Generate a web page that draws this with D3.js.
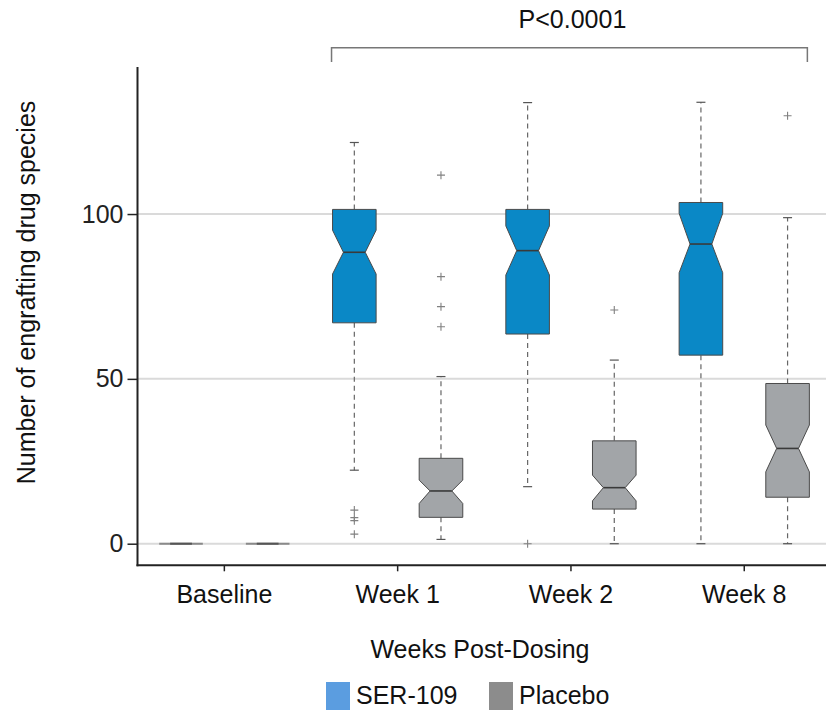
<!DOCTYPE html>
<html>
<head>
<meta charset="utf-8">
<script src="https://cdn.jsdelivr.net/npm/d3@7"></script>
<style>
  html, body { margin: 0; padding: 0; background: #fff; }
  svg { display: block; font-family: "Liberation Sans", Arial, sans-serif; }
</style>
</head>
<body>
<svg id="chart" width="826" height="712"></svg>
<script>
// ---- data ----
const categories = ["Baseline", "Week 1", "Week 2", "Week 8"];
const groups = ["SER-109", "Placebo"];
const yTicks = [0, 50, 100];

const serQ1       = [0, 67.0, 63.6, 57.2];
const serMedian   = [0, 88.4, 88.9, 90.9];
const serQ3       = [0, 101.4, 101.4, 103.5];
const serNotchLo  = [0, 81.8, 81.5, 82.2];
const serNotchHi  = [0, 95.1, 96.4, 100.2];
const serWhiskLo  = [0, 22.3, 17.3, 0];
const serWhiskHi  = [0, 121.7, 133.8, 133.9];
const serOutliers = [[], [10.2, 7.9, 7.0, 2.9], [0], []];

const plcQ1       = [0, 8.0, 10.5, 14.1];
const plcMedian   = [0, 16.0, 17.0, 28.9];
const plcQ3       = [0, 25.9, 31.2, 48.6];
const plcNotchLo  = [0, 12.2, 13.0, 21.8];
const plcNotchHi  = [0, 19.3, 20.8, 36.0];
const plcWhiskLo  = [0, 1.3, 0, 0];
const plcWhiskHi  = [0, 50.7, 55.7, 98.9];
const plcOutliers = [[], [111.8, 81.0, 71.9, 65.8], [70.9], [129.8]];

const pValueText = "P<0.0001";
const xTitle = "Weeks Post-Dosing";
const yTitle = "Number of engrafting drug species";

// ---- build records ----
const boxes = [];
categories.forEach((c, i) => {
  boxes.push({cat: c, group: "SER-109", q1: serQ1[i], med: serMedian[i], q3: serQ3[i],
    nlo: serNotchLo[i], nhi: serNotchHi[i], wlo: serWhiskLo[i], whi: serWhiskHi[i], out: serOutliers[i]});
  boxes.push({cat: c, group: "Placebo", q1: plcQ1[i], med: plcMedian[i], q3: plcQ3[i],
    nlo: plcNotchLo[i], nhi: plcNotchHi[i], wlo: plcWhiskLo[i], whi: plcWhiskHi[i], out: plcOutliers[i]});
});

const boxFill = {"SER-109": "#0a88c6", "Placebo": "#a2a5a8"};
const legendFill = {"SER-109": "#5b9de0", "Placebo": "#8c8c8c"};

const svg = d3.select("#chart");
const W = 826;
const axisLeft = 137.5, axisBottom = 565.3, axisTop = 67;

const x = d3.scaleBand().domain(categories).range([137.7, 830.9]).padding(0);
const xs = d3.scalePoint().domain(groups).range([0, x.bandwidth()]).padding(0.5);
const y = d3.scaleLinear().domain([-6.55, 144.6]).range([axisBottom, axisTop]);

const boxW = xs.step() * 0.503;
const half = boxW / 2;
const notchInset = half / 2;

// gridlines
svg.append("g").selectAll("line").data(yTicks).join("line")
  .attr("x1", axisLeft).attr("x2", W)
  .attr("y1", d => y(d)).attr("y2", d => y(d))
  .attr("stroke", "#dadada").attr("stroke-width", 2);

// boxes
const g = svg.append("g");
boxes.forEach(b => {
  const cx = x(b.cat) + xs(b.group);
  const L = cx - half, R = cx + half;
  const gg = g.append("g");
  const dashed = "5,4";
  if (b.whi > b.q3) {
    gg.append("line").attr("x1", cx).attr("x2", cx).attr("y1", y(b.q3)).attr("y2", y(b.whi))
      .attr("stroke", "#666").attr("stroke-width", 1.2).attr("stroke-dasharray", dashed);
    gg.append("line").attr("x1", cx - 4.5).attr("x2", cx + 4.5).attr("y1", y(b.whi)).attr("y2", y(b.whi))
      .attr("stroke", "#555").attr("stroke-width", 1.2);
  }
  if (b.wlo < b.q1) {
    gg.append("line").attr("x1", cx).attr("x2", cx).attr("y1", y(b.q1)).attr("y2", y(b.wlo))
      .attr("stroke", "#666").attr("stroke-width", 1.2).attr("stroke-dasharray", dashed);
    gg.append("line").attr("x1", cx - 4.5).attr("x2", cx + 4.5).attr("y1", y(b.wlo)).attr("y2", y(b.wlo))
      .attr("stroke", "#555").attr("stroke-width", 1.2);
  }
  const isFlat = b.q3 === b.q1;
  if (isFlat) {
    gg.append("line").attr("x1", L).attr("x2", R).attr("y1", y(b.med)).attr("y2", y(b.med))
      .attr("stroke", "#8a8a8a").attr("stroke-width", 2);
    gg.append("line").attr("x1", L + notchInset).attr("x2", R - notchInset).attr("y1", y(b.med)).attr("y2", y(b.med))
      .attr("stroke", "#555").attr("stroke-width", 2);
  } else {
    const pts = [
      [L, y(b.q3)], [R, y(b.q3)], [R, y(b.nhi)], [R - notchInset, y(b.med)], [R, y(b.nlo)],
      [R, y(b.q1)], [L, y(b.q1)], [L, y(b.nlo)], [L + notchInset, y(b.med)], [L, y(b.nhi)]
    ];
    gg.append("polygon").attr("points", pts.map(p => p.join(",")).join(" "))
      .attr("fill", boxFill[b.group]).attr("stroke", "#4a4a4a").attr("stroke-width", 1);
    gg.append("line").attr("x1", L + notchInset).attr("x2", R - notchInset)
      .attr("y1", y(b.med)).attr("y2", y(b.med))
      .attr("stroke", "#3a3a3a").attr("stroke-width", 1.6);
  }
  b.out.forEach(v => {
    const oy = y(v);
    gg.append("path").attr("d", `M${cx - 4},${oy}H${cx + 4}M${cx},${oy - 4}V${oy + 4}`)
      .attr("stroke", "#808080").attr("stroke-width", 1.1).attr("fill", "none");
  });
});

// axes
const yAxis = svg.append("g").attr("transform", `translate(${axisLeft},0)`)
  .call(d3.axisLeft(y).tickValues(yTicks).tickSize(10).tickPadding(4));
yAxis.select(".domain").remove();
yAxis.selectAll(".tick line").attr("stroke", "#222").attr("stroke-width", 1.5);
yAxis.selectAll(".tick text").attr("font-size", 25).attr("fill", "#222")
  .attr("font-family", "Liberation Sans, Arial, sans-serif");

svg.append("line").attr("x1", axisLeft).attr("x2", axisLeft).attr("y1", axisTop).attr("y2", axisBottom + 1)
  .attr("stroke", "#222").attr("stroke-width", 2);

const xAxis = svg.append("g").attr("transform", `translate(0,${axisBottom})`)
  .call(d3.axisBottom(x).tickSize(6).tickPadding(14));
xAxis.select(".domain").remove();
xAxis.selectAll(".tick line").attr("stroke", "#222").attr("stroke-width", 1.5);
xAxis.selectAll(".tick text").attr("font-size", 25).attr("fill", "#111")
  .attr("font-family", "Liberation Sans, Arial, sans-serif");
svg.append("line").attr("x1", axisLeft - 1).attr("x2", W).attr("y1", axisBottom).attr("y2", axisBottom)
  .attr("stroke", "#222").attr("stroke-width", 2);

// axis titles
svg.append("text").attr("x", 480).attr("y", 658).attr("text-anchor", "middle")
  .attr("font-size", 25).attr("fill", "#111").text(xTitle);
svg.append("text").attr("transform", "translate(35,292.5) rotate(-90)").attr("text-anchor", "middle")
  .attr("font-size", 25).attr("fill", "#111").text(yTitle);

// significance bracket
const bx1 = x("Week 1") + xs("SER-109") - half - 1;
const bx2 = x("Week 8") + xs("Placebo") + half - 2;
svg.append("path").attr("d", `M${bx1},62V47.7H${bx2}V62`)
  .attr("fill", "none").attr("stroke", "#777").attr("stroke-width", 1.5);
svg.append("text").attr("x", (bx1 + bx2) / 2 + 3).attr("y", 28).attr("text-anchor", "middle")
  .attr("font-size", 25).attr("fill", "#111").text(pValueText);

// legend
const legendX = [326, 489];
groups.forEach((gname, i) => {
  svg.append("rect").attr("x", legendX[i]).attr("y", 682).attr("width", 24).attr("height", 28)
    .attr("fill", legendFill[gname]);
  svg.append("text").attr("x", legendX[i] + 30).attr("y", 704)
    .attr("font-size", 25).attr("fill", "#111").text(gname);
});
</script>
</body>
</html>
